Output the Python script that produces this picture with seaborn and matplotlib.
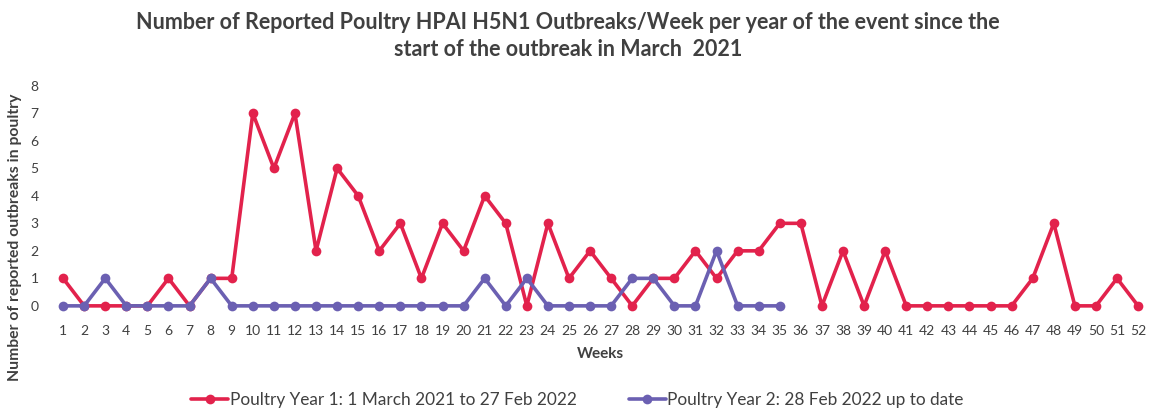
import numpy as np
import pandas as pd
import matplotlib
matplotlib.use("Agg")
import matplotlib.pyplot as plt
import seaborn as sns

# weekly counts
weeks_y1 = list(range(1, 53))
outbreaks_y1 = [1, 0, 0, 0, 0, 1, 0, 1, 1, 7,
                5, 7, 2, 5, 4, 2, 3, 1, 3, 2,
                4, 3, 0, 3, 1, 2, 1, 0, 1, 1,
                2, 1, 2, 2, 3, 3, 0, 2, 0, 2,
                0, 0, 0, 0, 0, 0, 1, 3, 0, 0,
                1, 0]
weeks_y2 = list(range(1, 36))
outbreaks_y2 = [0, 0, 1, 0, 0, 0, 0, 1, 0, 0,
                0, 0, 0, 0, 0, 0, 0, 0, 0, 0,
                1, 0, 1, 0, 0, 0, 0, 1, 1, 0,
                0, 2, 0, 0, 0]

label_y1 = "Poultry Year 1: 1 March 2021 to 27 Feb 2022"
label_y2 = "Poultry Year 2: 28 Feb 2022 up to date"
title = ("Number of Reported Poultry HPAI H5N1 Outbreaks/Week per year of the event since the\n"
         "start of the outbreak in March  2021")

RED = "#E2224C"
PURPLE = "#6B60B2"
TEXT = "#404040"

sns.set_style("white")
plt.rcParams["font.family"] = ["Lato", "DejaVu Sans"]

df1 = pd.DataFrame({"week": weeks_y1, "outbreaks": outbreaks_y1})
df2 = pd.DataFrame({"week": weeks_y2, "outbreaks": outbreaks_y2})

fig = plt.figure(figsize=(11.55, 4.09), dpi=100)
ax = fig.add_axes([0.0455, 0.232, 0.949, 0.565])

sns.lineplot(data=df1, x="week", y="outbreaks", ax=ax, color=RED, marker="o",
             markersize=7, linewidth=2.6, markeredgewidth=0, label=label_y1)
sns.lineplot(data=df2, x="week", y="outbreaks", ax=ax, color=PURPLE, marker="o",
             markersize=7, linewidth=2.6, markeredgewidth=0, label=label_y2)

ax.set_xlim(0.5, 52.5)
ax.set_ylim(-0.3, 8.1)
ax.set_xticks(weeks_y1)
ax.set_xticklabels([str(w) for w in weeks_y1])
ax.set_yticks(range(0, 9))
ax.tick_params(axis="both", length=0, labelsize=10, colors=TEXT)
ax.tick_params(axis="y", pad=10)
ax.tick_params(axis="x", pad=8)
sns.despine(ax=ax, left=True, bottom=True)
ax.grid(False)

ax.set_xlabel("Weeks", fontsize=11, fontweight="bold", color=TEXT, labelpad=7)
ax.set_ylabel("")
fig.text(0.013, 0.42, "Number of reported outbreaks in poultry", rotation=90,
         ha="center", va="center", fontsize=11.3, fontweight="bold", color=TEXT)

fig.text(0.492, 0.912, title, ha="center", va="center", fontsize=15.5,
         fontweight="bold", color=TEXT, linespacing=1.3)

handles, labels = ax.get_legend_handles_labels()
ax.get_legend().remove()
fig.legend(handles, labels, loc="center", bbox_to_anchor=(0.5, 0.022), ncol=2,
           frameon=False, fontsize=12.4, handlelength=2.15, handletextpad=0.1,
           columnspacing=3.0, labelcolor=TEXT)

fig.savefig("out.png", dpi=100)
